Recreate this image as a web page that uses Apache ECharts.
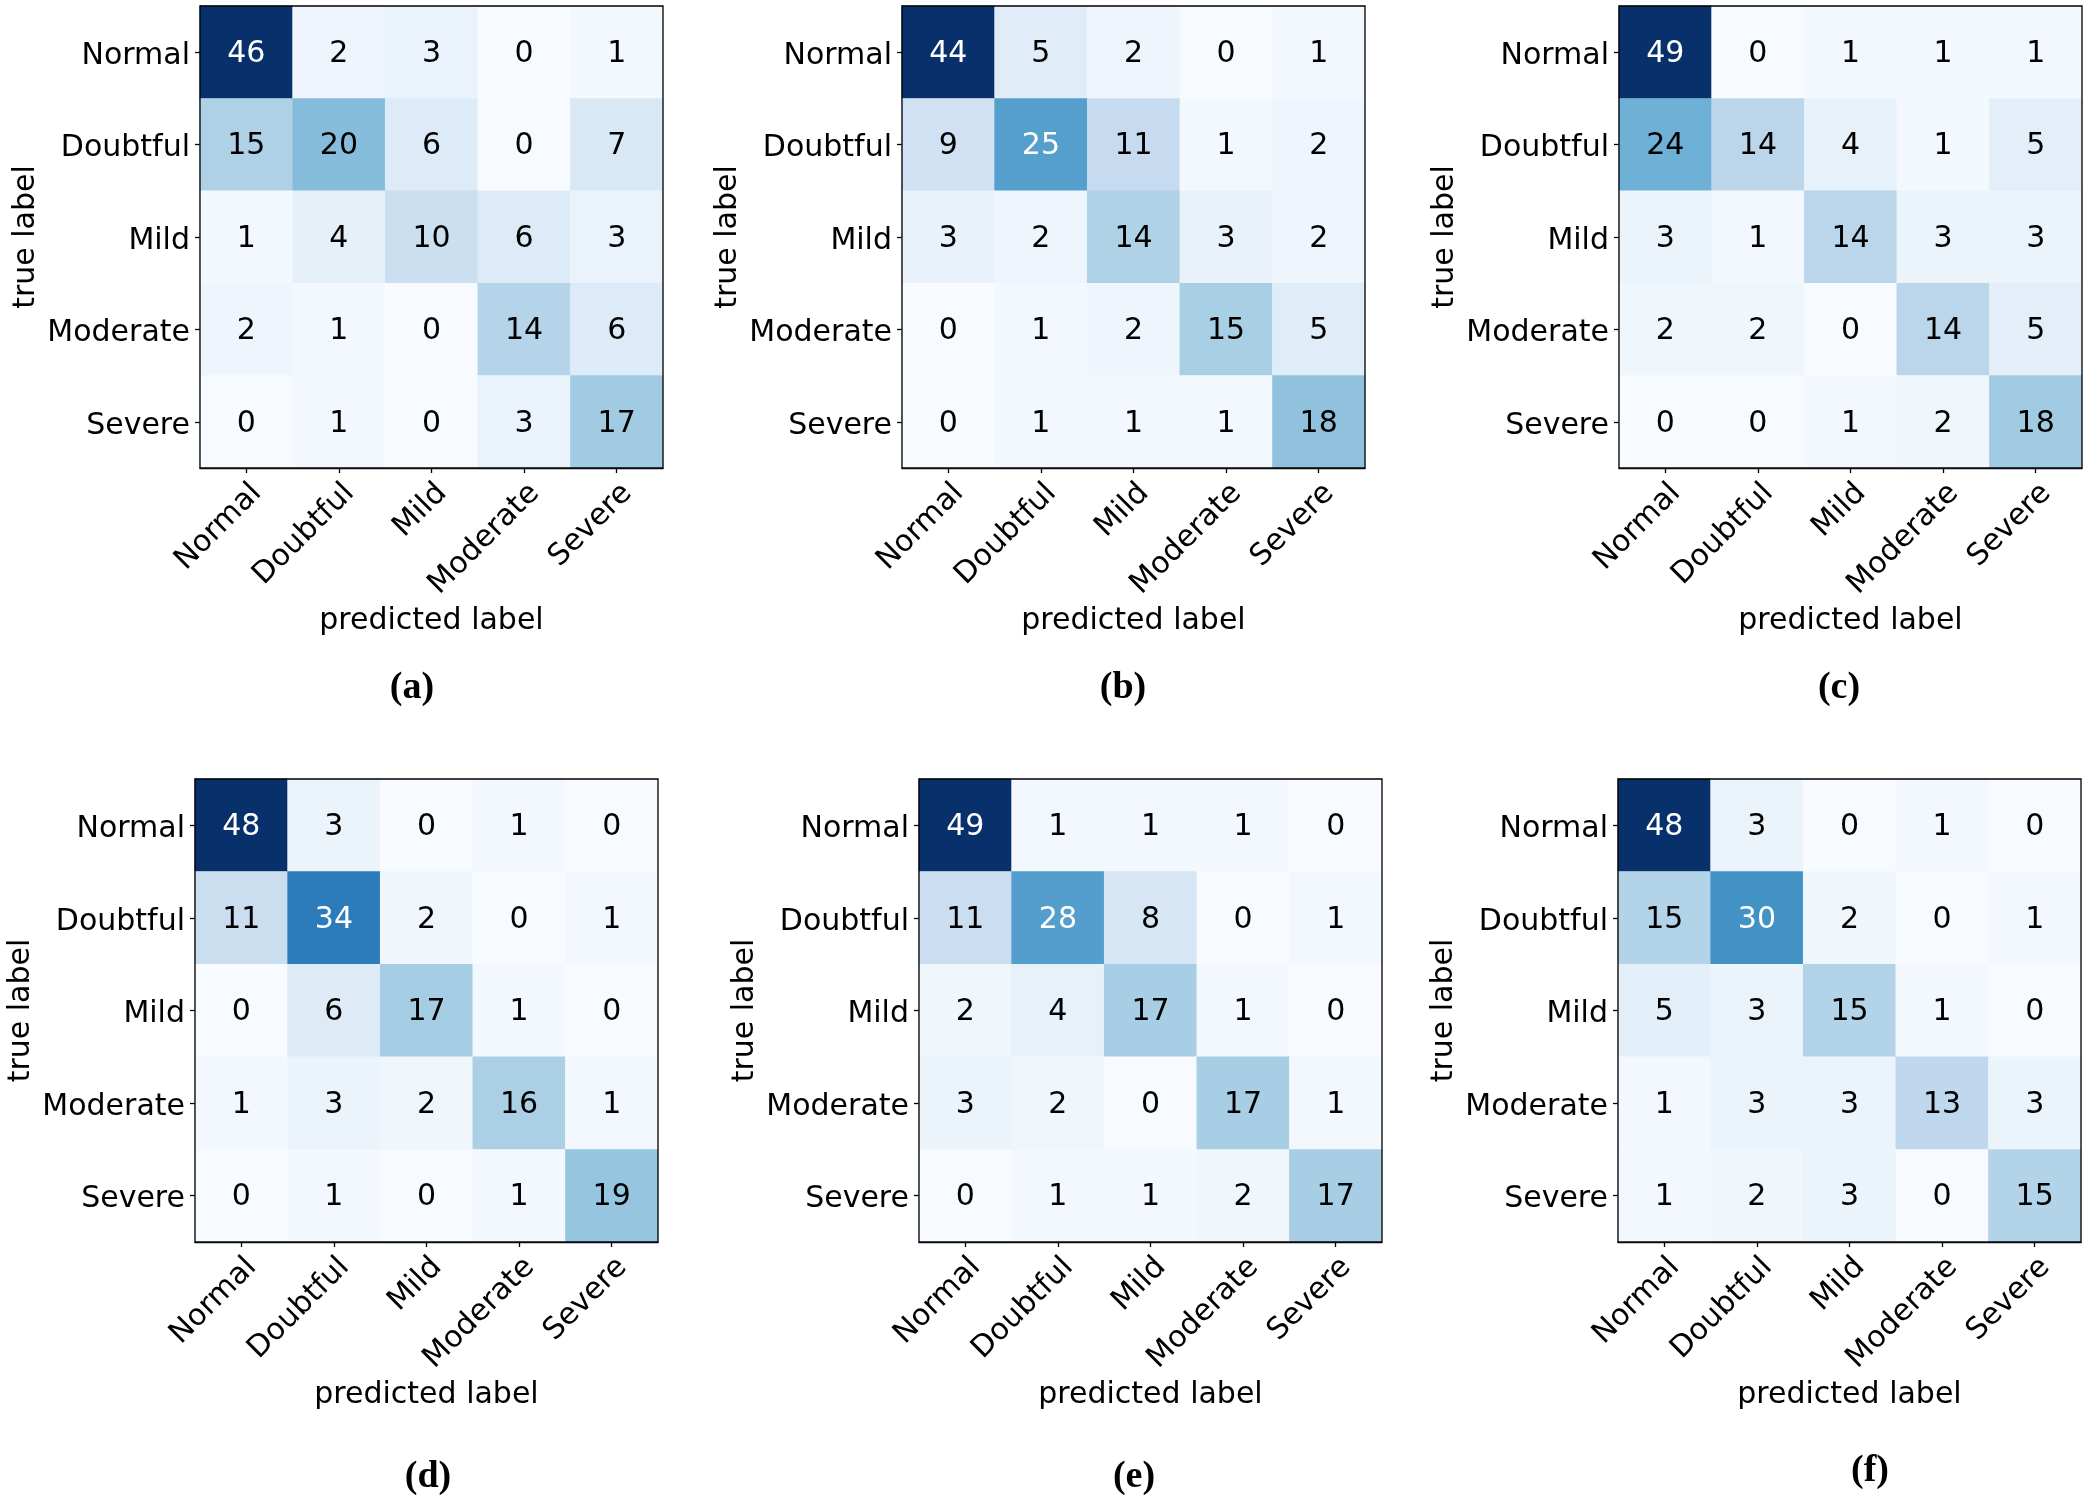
<!DOCTYPE html>
<html>
<head>
<meta charset="utf-8">
<script src="https://cdn.jsdelivr.net/npm/echarts@6/dist/echarts.min.js"></script>
<style>
html,body{margin:0;padding:0;background:#fff;}
#chart{width:2100px;height:1502px;}
</style>
</head>
<body>
<div id="chart"></div>
<script>
// ---- data ----
const CATEGORIES = ['Normal', 'Doubtful', 'Mild', 'Moderate', 'Severe'];
const X_NAME = 'predicted label';
const Y_NAME = 'true label';
const PANEL_LABELS = ['(a)', '(b)', '(c)', '(d)', '(e)', '(f)'];

// rows = true label, columns = predicted label
const CM_A = [
  [46, 2, 3, 0, 1],
  [15, 20, 6, 0, 7],
  [1, 4, 10, 6, 3],
  [2, 1, 0, 14, 6],
  [0, 1, 0, 3, 17]
];
const CM_B = [
  [44, 5, 2, 0, 1],
  [9, 25, 11, 1, 2],
  [3, 2, 14, 3, 2],
  [0, 1, 2, 15, 5],
  [0, 1, 1, 1, 18]
];
const CM_C = [
  [49, 0, 1, 1, 1],
  [24, 14, 4, 1, 5],
  [3, 1, 14, 3, 3],
  [2, 2, 0, 14, 5],
  [0, 0, 1, 2, 18]
];
const CM_D = [
  [48, 3, 0, 1, 0],
  [11, 34, 2, 0, 1],
  [0, 6, 17, 1, 0],
  [1, 3, 2, 16, 1],
  [0, 1, 0, 1, 19]
];
const CM_E = [
  [49, 1, 1, 1, 0],
  [11, 28, 8, 0, 1],
  [2, 4, 17, 1, 0],
  [3, 2, 0, 17, 1],
  [0, 1, 1, 2, 17]
];
const CM_F = [
  [48, 3, 0, 1, 0],
  [15, 30, 2, 0, 1],
  [5, 3, 15, 1, 0],
  [1, 3, 3, 13, 3],
  [1, 2, 3, 0, 15]
];
const MATRICES = [CM_A, CM_B, CM_C, CM_D, CM_E, CM_F];

// ---- layout / style ----
const GRIDS = [
  {left: 200, top: 6, width: 463, height: 462},
  {left: 902, top: 6, width: 463, height: 462},
  {left: 1619, top: 6, width: 463, height: 462},
  {left: 195, top: 779, width: 463, height: 463},
  {left: 919, top: 779, width: 463, height: 463},
  {left: 1618, top: 779, width: 463, height: 463}
];
const CAPTION_POS = [
  [412, 688], [1123, 688], [1839, 688],
  [428, 1477], [1134, 1477], [1870, 1471]
];
const BLUES = ['#f7fbff', '#deebf7', '#c6dbef', '#9ecae1', '#6baed6', '#4292c6', '#2171b5', '#08519c', '#08306b'];
const FONT = '"DejaVu Sans", sans-serif';
const FS = 30;

const chart = echarts.init(document.getElementById('chart'), null, {renderer: 'canvas'});

const grid = [], xAxis = [], yAxis = [], series = [], visualMap = [], graphic = [];

MATRICES.forEach((m, k) => {
  const g = GRIDS[k];
  let maxV = 0;
  m.forEach(r => r.forEach(v => { if (v > maxV) maxV = v; }));
  const thr = maxV / 2;
  grid.push({
    left: g.left, top: g.top, width: g.width, height: g.height,
    show: true, borderColor: '#000', borderWidth: 1.3, backgroundColor: 'transparent', z: 10
  });
  xAxis.push({
    type: 'category', gridIndex: k, data: CATEGORIES, position: 'bottom',
    name: X_NAME, nameLocation: 'middle', nameGap: 138,
    nameTextStyle: {fontFamily: FONT, fontSize: FS, color: '#000'},
    axisLine: {show: true, lineStyle: {color: '#000', width: 1.3}},
    axisTick: {show: true, alignWithLabel: true, length: 5, lineStyle: {color: '#000', width: 1.3}},
    axisLabel: {rotate: 45, align: 'right', verticalAlign: 'top', margin: 10,
      fontFamily: FONT, fontSize: FS, color: '#000', interval: 0},
    splitLine: {show: false}, splitArea: {show: false}
  });
  yAxis.push({
    type: 'category', gridIndex: k, data: CATEGORIES, inverse: true,
    name: Y_NAME, nameLocation: 'middle', nameGap: 159, nameRotate: 90,
    nameTextStyle: {fontFamily: FONT, fontSize: FS, color: '#000'},
    axisLine: {show: true, lineStyle: {color: '#000', width: 1.3}},
    axisTick: {show: true, alignWithLabel: true, length: 5, lineStyle: {color: '#000', width: 1.3}},
    axisLabel: {margin: 10, fontFamily: FONT, fontSize: FS, color: '#000', interval: 0,
      formatter: v => '{t|' + v + '}',
      rich: {t: {fontFamily: FONT, fontSize: FS, color: '#000', padding: [8, 0, 0, 0]}}},
    splitLine: {show: false}, splitArea: {show: false}
  });
  const data = [];
  m.forEach((row, i) => row.forEach((v, j) => data.push([j, i, v])));
  series.push({
    type: 'heatmap', xAxisIndex: k, yAxisIndex: k, data: data,
    itemStyle: {borderWidth: 0},
    emphasis: {disabled: true},
    label: {
      show: true,
      offset: [0, 2],
      formatter: p => (p.value[2] > thr ? '{w|' : '{k|') + p.value[2] + '}',
      rich: {
        w: {color: '#fff', fontFamily: FONT, fontSize: FS},
        k: {color: '#000', fontFamily: FONT, fontSize: FS}
      }
    }
  });
  visualMap.push({
    show: false, type: 'continuous', seriesIndex: k, dimension: 2,
    min: 0, max: maxV, inRange: {color: BLUES}
  });
  graphic.push({
    type: 'text', x: CAPTION_POS[k][0], y: CAPTION_POS[k][1],
    style: {text: PANEL_LABELS[k], font: 'bold 38px "Liberation Serif", serif',
      fill: '#000', textAlign: 'center', textVerticalAlign: 'middle'}
  });
});

chart.setOption({
  animation: false,
  backgroundColor: '#fff',
  grid, xAxis, yAxis, series, visualMap, graphic
});
</script>
</body>
</html>
